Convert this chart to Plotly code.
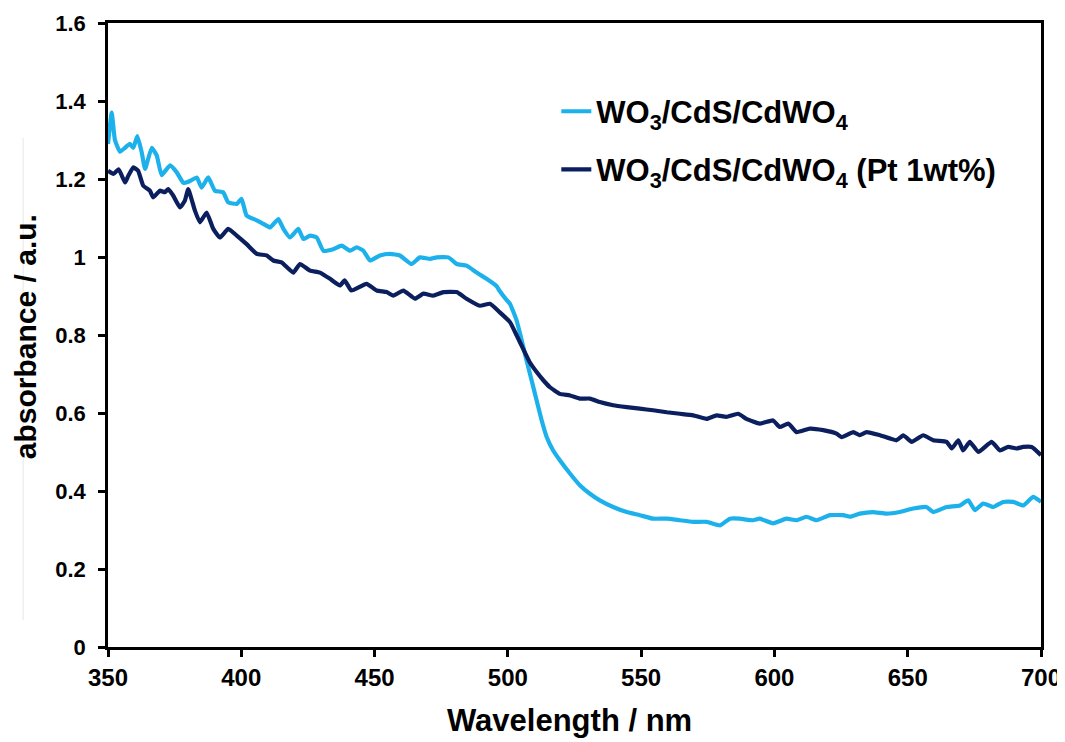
import plotly.graph_objects as go

# Series 1: WO3/CdS/CdWO4
wl_a = [350, 351.4, 352.6, 354.5, 356.4, 358.2, 359.5, 361, 362.6, 363.9, 366.4, 368.3, 370.1,
        373.3, 375.8, 378.3, 380.8, 383.3, 385.1, 387.6, 390.1, 393.2, 395.1, 398.3, 400.1,
        402, 405.8, 408.3, 410.8, 413.9, 415.8, 418.3, 421.4, 423.3, 425.8, 428.3, 430.8,
        434.5, 437.7, 440.8, 443.3, 445.8, 448.3, 452, 455.8, 459.5, 463.9, 467, 470.8,
        473.3, 477.7, 480.8, 484.5, 488.3, 492, 495.8, 497, 499.5, 500.8, 503.3, 505.2,
        507, 508.9, 510.8, 512.7, 514.6, 517, 519.5, 523.3, 527, 530.8, 534.5, 539.5,
        544.6, 549.5, 554.5, 559.6, 564.5, 569.5, 574.6, 579.6, 583.3, 587, 592, 594.5,
        599.5, 604.5, 608.3, 612, 615.8, 620.8, 625.8, 628.3, 632, 637, 642, 647, 652,
        657, 659.6, 664.6, 669.6, 672.7, 675.2, 678.3, 682.1, 685.8, 689.6, 693.3, 697.1, 700]
abs_a = [1.29, 1.37, 1.30, 1.27, 1.28, 1.29, 1.28, 1.31, 1.27, 1.226, 1.28, 1.26, 1.21,
         1.235, 1.217, 1.19, 1.195, 1.204, 1.178, 1.204, 1.17, 1.166, 1.14, 1.136, 1.149,
         1.106, 1.094, 1.085, 1.076, 1.097, 1.072, 1.05, 1.072, 1.046, 1.055, 1.05, 1.016,
         1.02, 1.029, 1.016, 1.025, 1.016, 0.991, 1.004, 1.008, 1.004, 0.982, 0.999, 0.995,
         0.999, 0.999, 0.982, 0.978, 0.96, 0.944, 0.925, 0.912, 0.89, 0.88, 0.837, 0.786,
         0.735, 0.684, 0.632, 0.581, 0.538, 0.504, 0.479, 0.445, 0.415, 0.393, 0.376, 0.359,
         0.346, 0.338, 0.329, 0.329, 0.325, 0.321, 0.321, 0.312, 0.329, 0.329, 0.325, 0.329,
         0.317, 0.329, 0.325, 0.334, 0.325, 0.338, 0.338, 0.334, 0.342, 0.346, 0.342, 0.346, 0.355,
         0.359, 0.346, 0.359, 0.363, 0.376, 0.351, 0.368, 0.359, 0.372, 0.372, 0.363, 0.385, 0.372]

# Series 2: WO3/CdS/CdWO4 (Pt 1wt%)
wl_b = [350, 352, 354, 356.4, 357.6, 359.5, 361.3, 363.2, 365.7, 367, 369.5, 371.3, 372.6,
        374.5, 377, 378.8, 380.1, 382.6, 384.5, 387, 389.5, 392, 395.1, 398.3, 402, 405.8,
        409.5, 412, 415.1, 419.5, 422, 425.8, 429.5, 433.3, 437, 438.8, 441.3, 447, 450.8,
        454.5, 457, 460.8, 465.2, 468.3, 472, 475.8, 480.8, 484.5, 489.5, 493.3, 497, 500.8,
        503.3, 505.7, 508.2, 510.8, 513.3, 515.8, 519.5, 523.3, 527, 530.8, 534.5, 539.5,
        544.6, 549.5, 554.5, 559.6, 564.5, 569.5, 574.6, 578.3, 582, 586.4, 589.5, 594.5,
        599.5, 602, 605.2, 608.3, 613.3, 618.3, 623.3, 625.2, 629.6, 632, 634.6, 639.6,
        645.8, 648.3, 651.5, 655.8, 659.6, 664.6, 666.5, 669, 670.8, 673.3, 676.5, 681.5,
        684.6, 687.7, 690.8, 693.3, 696.5, 700]
abs_b = [1.221, 1.213, 1.225, 1.191, 1.208, 1.23, 1.221, 1.183, 1.17, 1.153, 1.17, 1.166, 1.174,
         1.157, 1.127, 1.144, 1.174, 1.119, 1.089, 1.114, 1.072, 1.05, 1.072, 1.055, 1.033, 1.008,
         1.004, 0.991, 0.986, 0.96, 0.982, 0.965, 0.96, 0.944, 0.927, 0.94, 0.914, 0.931, 0.914,
         0.91, 0.901, 0.914, 0.893, 0.906, 0.901, 0.91, 0.91, 0.893, 0.875, 0.88, 0.858, 0.833,
         0.799, 0.765, 0.73, 0.705, 0.684, 0.666, 0.649, 0.645, 0.637, 0.637, 0.628, 0.62,
         0.615, 0.611, 0.607, 0.602, 0.598, 0.594, 0.585, 0.594, 0.59, 0.598, 0.585, 0.573,
         0.581, 0.564, 0.573, 0.551, 0.56, 0.556, 0.547, 0.538, 0.551, 0.543, 0.551, 0.543,
         0.53, 0.543, 0.526, 0.543, 0.53, 0.526, 0.509, 0.53, 0.504, 0.526, 0.5, 0.526,
         0.504, 0.513, 0.509, 0.513, 0.513, 0.492]

name_a = "WO<sub>3</sub>/CdS/CdWO<sub>4</sub>"
name_b = "WO<sub>3</sub>/CdS/CdWO<sub>4</sub> (Pt 1wt%)"
x_title = "Wavelength / nm"
y_title = "absorbance / a.u."
color_a = "#1DB1EC"
color_b = "#0B1F5E"

FONT = "Liberation Sans, Arial, Helvetica, sans-serif"

fig = go.Figure()
fig.add_trace(go.Scatter(x=wl_a, y=abs_a, mode="lines", name=name_a, showlegend=True,
                         line=dict(color=color_a, width=4.2, shape="spline", smoothing=0.4),
                         legend="legend"))
fig.add_trace(go.Scatter(x=wl_b, y=abs_b, mode="lines", name=name_b, showlegend=True,
                         line=dict(color=color_b, width=4.2, shape="spline", smoothing=0.4),
                         legend="legend2"))

legend_common = dict(font=dict(family=FONT, size=31, color="black", weight="bold"),
                     bgcolor="rgba(0,0,0,0)", borderwidth=0, itemwidth=30,
                     xanchor="left", yanchor="middle", visible=True)

# the page body adds an 8px offset, so the figure is sized/margined to compensate
fig.update_layout(
    width=1057, height=734,
    margin=dict(l=100, r=24, t=15, b=95),
    paper_bgcolor="white", plot_bgcolor="white",
    font=dict(family=FONT, color="black"),
    showlegend=True,
    legend=dict(x=0.4805, y=0.858, **legend_common),
    legend2=dict(x=0.4805, y=0.765, **legend_common),
    xaxis=dict(range=[350, 700], tickmode="linear", tick0=350, dtick=50,
               showgrid=False, zeroline=False, automargin=False,
               showline=True, linecolor="black", linewidth=2.5, mirror=True,
               ticks="outside", ticklen=7, tickwidth=2.5, tickcolor="black",
               tickfont=dict(family=FONT, size=24, color="black", weight="bold")),
    yaxis=dict(range=[0, 1.6], tickmode="linear", tick0=0, dtick=0.2,
               showgrid=False, zeroline=False, automargin=False,
               showline=True, linecolor="black", linewidth=2.5, mirror=True,
               ticks="outside", ticklen=7, tickwidth=2.5, tickcolor="black",
               ticklabelstandoff=8,
               tickfont=dict(family=FONT, size=22, color="black", weight="bold")),
)

fig.add_annotation(text=x_title, xref="paper", yref="paper", x=0.495, y=-0.117,
                   xanchor="center", yanchor="middle", showarrow=False,
                   font=dict(family=FONT, size=31, color="black", weight="bold"))
fig.add_annotation(text=y_title, xref="paper", yref="paper", x=-0.089, y=0.498,
                   xanchor="center", yanchor="middle", showarrow=False, textangle=-90,
                   font=dict(family=FONT, size=30, color="black", weight="bold"))

# faint vertical line at far left of the original image
fig.add_shape(type="line", xref="paper", yref="paper", layer="below",
              x0=-0.091, x1=-0.091, y0=0.043, y1=0.816,
              line=dict(color="#e6e6e6", width=1))

fig.write_html("out.html")
